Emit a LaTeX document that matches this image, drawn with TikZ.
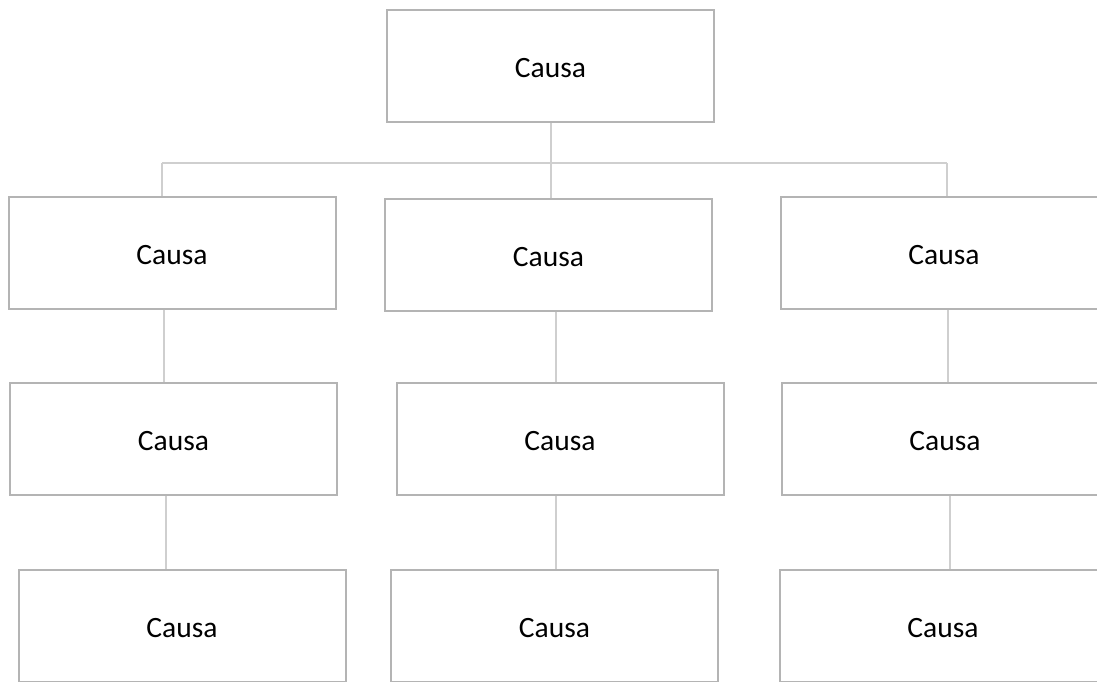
\documentclass[tikz,border=0pt]{standalone}
\usepackage{fontspec}
\setmainfont{Carlito}
\definecolor{boxline}{HTML}{B4B4B4}
\definecolor{connline}{HTML}{CFCFCF}
\begin{document}
\begin{tikzpicture}[x=1pt,y=1pt,
  causebox/.style={draw=boxline,line width=2pt,fill=white,rectangle,
    minimum width=327pt,minimum height=112pt,inner sep=0pt,
    text height=23pt,text depth=0pt,
    font=\fontsize{29.5}{34}\selectfont},
  conn/.style={draw=connline,line width=2pt}]
\useasboundingbox (0,0) rectangle (1097,-682);
\clip (0,0) rectangle (1097,-682);
% coordinates for connector x-positions
\coordinate (bar) at (0,-163);
\coordinate (xa) at (162,0);
\coordinate (xc) at (947,0);
\coordinate (ya) at (164,0);
\coordinate (yb) at (556,0);
\coordinate (yc) at (948,0);
\coordinate (za) at (166,0);
\coordinate (zb) at (556,0);
\coordinate (zc) at (950,0);
% boxes
\node[causebox] (top) at (550.5,-66) {Causa};
\node[causebox] (r2a) at (172,-252.5) {Causa};
\node[causebox] (r2b) at (548.5,-255) {Causa};
\node[causebox] (r2c) at (944,-253) {Causa};
\node[causebox] (r3a) at (173.5,-439) {Causa};
\node[causebox] (r3b) at (560,-439) {Causa};
\node[causebox] (r3c) at (945,-439) {Causa};
\node[causebox] (r4a) at (182,-626) {Causa};
\node[causebox] (r4b) at (554.5,-626) {Causa};
\node[causebox] (r4c) at (943,-626) {Causa};
% connectors
\coordinate (bl) at (bar -| xa);
\coordinate (br) at (bar -| xc);
\coordinate (bm) at (top.south |- bar);
\draw[conn] (top.south) -- (bm);
\draw[conn] (bl) -- (br);
\draw[conn] (bl) -- (r2a.north -| xa);
\draw[conn] (br) -- (r2c.north -| xc);
\draw[conn] (bm) -- (r2b.north -| bm);
\draw[conn] (r2a.south -| ya) -- (r3a.north -| ya);
\draw[conn] (r2b.south -| yb) -- (r3b.north -| yb);
\draw[conn] (r2c.south -| yc) -- (r3c.north -| yc);
\draw[conn] (r3a.south -| za) -- (r4a.north -| za);
\draw[conn] (r3b.south -| zb) -- (r4b.north -| zb);
\draw[conn] (r3c.south -| zc) -- (r4c.north -| zc);
\end{tikzpicture}
\end{document}
